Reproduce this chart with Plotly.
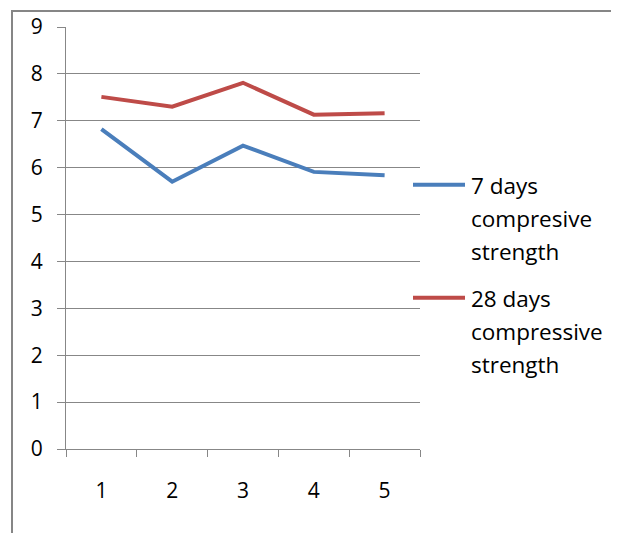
import plotly.graph_objects as go

categories = ["1", "2", "3", "4", "5"]
days7 = [6.82, 5.70, 6.47, 5.91, 5.84]
days28 = [7.51, 7.30, 7.81, 7.13, 7.16]
series_lines = [["7 days", "compresive", "strength"], ["28 days", "compressive", "strength"]]
colors = ["#4A7EBB", "#BE4B48"]

OFF = 8  # page body margin
W, H = 619 - OFF, 533 - OFF
L, R, T, B = 66 - OFF, 420 - OFF, 27 - OFF, 449.5 - OFF

fig = go.Figure()
for vals, lines, c in zip([days7, days28], series_lines, colors):
    fig.add_trace(go.Scatter(x=categories, y=vals, mode="lines", name=" ".join(lines),
                             line=dict(color=c, width=4), showlegend=False))

font = "'Open Sans', sans-serif"
grid = "#878787"

def px(x):
    return (x - OFF - L) / (R - L)

def py(y):
    return (B - (y - OFF)) / (B - T)

shapes = [dict(type="rect", xref="paper", yref="paper", x0=px(12), x1=px(680),
               y0=py(11), y1=py(620), line=dict(color="#868686", width=2))]
annotations = []
legend_y = [185, 298]
for lines, c, yy in zip(series_lines, colors, legend_y):
    shapes.append(dict(type="line", xref="paper", yref="paper", x0=px(413), x1=px(465),
                       y0=py(yy), y1=py(yy), line=dict(color=c, width=4)))
    for i, t in enumerate(lines):
        annotations.append(dict(xref="paper", yref="paper", x=px(469), y=py(yy + 1 + 33 * i),
                                xanchor="left", yanchor="middle", align="left", showarrow=False,
                                text=t, font=dict(family=font, size=22.5, color="#000")))

fig.update_layout(
    width=W, height=H,
    margin=dict(l=L, r=W - R, t=T, b=H - B, pad=0, autoexpand=False),
    paper_bgcolor="white", plot_bgcolor="white",
    shapes=shapes, annotations=annotations,
    font=dict(family=font, size=21, color="#000"),
    xaxis=dict(type="category", range=[-0.5, 4.5], tickson="boundaries",
               ticks="outside", ticklen=7, tickcolor=grid, showgrid=False,
               showline=True, linecolor=grid, linewidth=1, ticklabelstandoff=23,
               zeroline=False, automargin=False),
    yaxis=dict(range=[0, 9], dtick=1, ticks="outside", ticklen=8, tickcolor=grid,
               showgrid=True, gridcolor=grid, gridwidth=1, showline=True,
               linecolor=grid, linewidth=1, zeroline=False, ticklabelstandoff=10,
               automargin=False),
)
fig.write_html("out.html")
